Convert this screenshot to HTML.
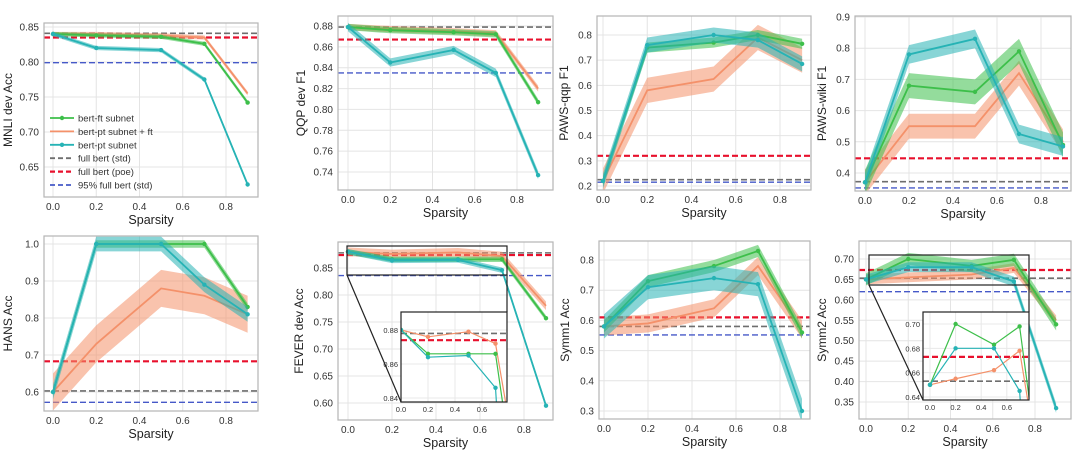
<!DOCTYPE html>
<html><head><meta charset="utf-8">
<style>
html,body{margin:0;padding:0;background:#fff;width:1080px;height:466px;overflow:hidden;}
svg{display:block;font-family:"Liberation Sans","DejaVu Sans",sans-serif;}
</style></head>
<body>
<svg id="fig" width="1080" height="466" viewBox="0 0 1080 466"></svg>
<script>
const sparsity = [0, 0.2, 0.5, 0.7, 0.9];
const seriesNames = ["bert-ft subnet","bert-pt subnet + ft","bert-pt subnet","full bert (std)","full bert (poe)","95% full bert (std)"];
// MNLI
const mnliFt = [0.840,0.838,0.836,0.826,0.742];
const mnliPtFt = [0.840,0.840,0.838,0.835,0.755];
const mnliPt = [0.840,0.820,0.817,0.775,0.625];
const mnliRefs = [0.841,0.835,0.799];
// QQP
const qqpFt = [0.879,0.876,0.874,0.872,0.807];
const qqpPtFt = [0.879,0.877,0.875,0.873,0.820];
const qqpPt = [0.879,0.845,0.857,0.835,0.737];
const qqpRefs = [0.879,0.867,0.835];
// PAWS-qqp
const pqqpFt = [0.22,0.75,0.77,0.80,0.765];
const pqqpPtFt = [0.22,0.58,0.625,0.79,0.70];
const pqqpPt = [0.22,0.76,0.80,0.78,0.685];
const pqqpRefs = [0.225,0.32,0.215];
// PAWS-wiki
const pwikiFt = [0.37,0.68,0.66,0.79,0.49];
const pwikiPtFt = [0.37,0.55,0.55,0.72,0.50];
const pwikiPt = [0.37,0.78,0.83,0.525,0.485];
const pwikiRefs = [0.372,0.447,0.352];
// HANS
const hansFt = [0.60,1.0,1.0,1.0,0.83];
const hansPtFt = [0.60,0.73,0.88,0.86,0.81];
const hansPt = [0.60,1.0,1.0,0.89,0.81];
const hansRefs = [0.603,0.683,0.572];
// FEVER
const feverFt = [0.880,0.866,0.866,0.866,0.757];
const feverPtFt = [0.880,0.876,0.879,0.872,0.780];
const feverPt = [0.880,0.864,0.865,0.846,0.595];
const feverRefs = [0.878,0.874,0.836];
// Symm1
const symm1Ft = [0.58,0.73,0.78,0.83,0.56];
const symm1PtFt = [0.58,0.59,0.64,0.78,0.57];
const symm1Pt = [0.58,0.71,0.74,0.72,0.30];
const symm1Refs = [0.58,0.61,0.552];
// Symm2
const symm2Ft = [0.65,0.70,0.683,0.698,0.54];
const symm2PtFt = [0.65,0.655,0.662,0.678,0.55];
const symm2Pt = [0.65,0.68,0.68,0.645,0.335];
const symm2Refs = [0.653,0.673,0.62];
// band half-widths (std) per panel: ft, ptft, pt
const mnliSd = [0.003,0.003,0.003];
const qqpSd = [0.003,0.003,0.004];
const pqqpSd = [0.02,0.05,0.03];
const pwikiSd = [0.04,0.04,0.03];
const hansSd = [0.01,0.05,0.02];
const feverSd = [0.005,0.008,0.005];
const symm1Sd = [0.02,0.03,0.04];
const symm2Sd = [0.015,0.012,0.012];
const xTicks = [0,0.2,0.4,0.6,0.8];

const C_FT="#3dbf4a", C_PTFT="#f4916a", C_PT="#26b3b5";
const C_STD="#6e6e6e", C_POE="#e8102d", C_95="#4659c8";
const NS="http://www.w3.org/2000/svg";
const svg=document.getElementById('fig');
function mk(tag,attrs,parent){const e=document.createElementNS(NS,tag);for(const k in attrs)e.setAttribute(k,attrs[k]);(parent||svg).appendChild(e);return e;}

const panels=[
 {key:"mnli",label:"MNLI dev Acc",ft:mnliFt,ptft:mnliPtFt,pt:mnliPt,refs:mnliRefs,sd:mnliSd,box:[44,23,258,197],x0:53,x8:226,yA:[0.85,27],yB:[0.65,167],yt:[0.65,0.70,0.75,0.80,0.85],dec:2,ylx:12},
 {key:"qqp",label:"QQP dev F1",ft:qqpFt,ptft:qqpPtFt,pt:qqpPt,refs:qqpRefs,sd:qqpSd,box:[338,16,553,190],x0:348,x8:517,yA:[0.88,26],yB:[0.74,172],yt:[0.74,0.76,0.78,0.80,0.82,0.84,0.86,0.88],dec:2,ylx:305},
 {key:"pawsqqp",label:"PAWS-qqp F1",ft:pqqpFt,ptft:pqqpPtFt,pt:pqqpPt,refs:pqqpRefs,sd:pqqpSd,box:[597,16,811,190],x0:603,x8:780,yA:[0.8,35],yB:[0.2,186],yt:[0.2,0.3,0.4,0.5,0.6,0.7,0.8],dec:1,ylx:568},
 {key:"pawswiki",label:"PAWS-wiki F1",ft:pwikiFt,ptft:pwikiPtFt,pt:pwikiPt,refs:pwikiRefs,sd:pwikiSd,box:[855,16,1071,191],x0:865,x8:1041,yA:[0.9,17],yB:[0.4,173],yt:[0.4,0.5,0.6,0.7,0.8,0.9],dec:1,ylx:826},
 {key:"hans",label:"HANS Acc",ft:hansFt,ptft:hansPtFt,pt:hansPt,refs:hansRefs,sd:hansSd,box:[44,236,258,411],x0:53,x8:226,yA:[1.0,244],yB:[0.6,392],yt:[0.6,0.7,0.8,0.9,1.0],dec:1,ylx:12},
 {key:"fever",label:"FEVER dev Acc",ft:feverFt,ptft:feverPtFt,pt:feverPt,refs:feverRefs,sd:feverSd,box:[338,242,553,420],x0:348,x8:524,yA:[0.85,268],yB:[0.60,403],yt:[0.60,0.65,0.70,0.75,0.80,0.85],dec:2,ylx:303,
   inset:{box:[401,312,507,402],x0:401,xs:135,yA:[0.88,330],yB:[0.84,398],yt:[0.84,0.86,0.88],xt:[0,0.2,0.4,0.6],rect:[347,246,507,275],conn:[[347,275,401,402],[507,275,507,312]]}},
 {key:"symm1",label:"Symm1 Acc",ft:symm1Ft,ptft:symm1PtFt,pt:symm1Pt,refs:symm1Refs,sd:symm1Sd,box:[599,241,810,419],x0:604,x8:780,yA:[0.8,260],yB:[0.3,411],yt:[0.3,0.4,0.5,0.6,0.7,0.8],dec:1,ylx:569},
 {key:"symm2",label:"Symm2 Acc",ft:symm2Ft,ptft:symm2PtFt,pt:symm2Pt,refs:symm2Refs,sd:symm2Sd,box:[859,241,1071,419],x0:866,x8:1035,yA:[0.70,259],yB:[0.35,402],yt:[0.35,0.40,0.45,0.50,0.55,0.60,0.65,0.70],dec:2,ylx:826,
   inset:{box:[923,312,1029,400],x0:930,xs:128,yA:[0.70,324],yB:[0.64,397],yt:[0.64,0.66,0.68,0.70],xt:[0,0.2,0.4,0.6],rect:[869,255,1029,285],conn:[[869,285,923,400],[1029,285,1029,312]]}}
];

function drawSeries(g,xf,yf,vals,sd,color,withBand,lw,markers){
  if(withBand){
    let up=sparsity.map((s,i)=>xf(s)+","+yf(vals[i]+sd)).join(" ");
    let dn=sparsity.map((s,i)=>xf(s)+","+yf(vals[i]-sd)).reverse().join(" ");
    const band=mk('polygon',{points:up+" "+dn,fill:color,'fill-opacity':0.55,stroke:'none'},g);
    
    
  }
  const ln=mk('polyline',{points:sparsity.map((s,i)=>xf(s)+","+yf(vals[i])).join(" "),fill:'none',stroke:color,'stroke-width':lw},g);
  
  
  if(markers){sparsity.forEach((s,i)=>{const c=mk('circle',{cx:xf(s),cy:yf(vals[i]),r:2.2,fill:color},g);
    
    });}
}
function drawRefs(g,x1,x2,yf,refs,lwScale){
  const cols=[C_STD,C_POE,C_95], w=[1.6,2.2,1.4];
  refs.forEach((v,i)=>{const l=mk('line',{x1:x1,x2:x2,y1:yf(v),y2:yf(v),stroke:cols[i],'stroke-width':w[i]*lwScale,'stroke-dasharray':'6,3'},g);
    
    });
}

panels.forEach(p=>{
  const g=mk('g',{});
  
  
  const [L,T,R,B]=p.box;
  const xs=(p.x8-p.x0)/0.8;
  const xf=s=>p.x0+s*xs;
  const yk=(p.yB[1]-p.yA[1])/(p.yB[0]-p.yA[0]);
  const yf=v=>p.yA[1]+(v-p.yA[0])*yk;
  const cid='clip-'+p.key;
  const cp=mk('clipPath',{id:cid},g); mk('rect',{x:L,y:T,width:R-L,height:B-T},cp);
  xTicks.forEach(t=>{mk('line',{x1:xf(t),x2:xf(t),y1:T,y2:B,stroke:'#e4e4e4','stroke-width':1},g);
    const tl=mk('text',{x:xf(t),y:B+13,'text-anchor':'middle','font-size':10,fill:'#333'},g);tl.textContent=t.toFixed(1);
    
    });
  p.yt.forEach(t=>{mk('line',{x1:L,x2:R,y1:yf(t),y2:yf(t),stroke:'#e4e4e4','stroke-width':1},g);
    const tl=mk('text',{x:L-5,y:yf(t)+3.5,'text-anchor':'end','font-size':10,fill:'#333'},g);tl.textContent=t.toFixed(p.dec);
    
    });
  const cg=mk('g',{'clip-path':'url(#'+cid+')'},g);
  drawRefs(cg,L,R,yf,p.refs,1);
  drawSeries(cg,xf,yf,p.ptft,p.sd[1],C_PTFT,true,1.8,false);
  drawSeries(cg,xf,yf,p.ft,p.sd[0],C_FT,true,1.8,true);
  drawSeries(cg,xf,yf,p.pt,p.sd[2],C_PT,true,1.8,true);
  const fr=mk('rect',{x:L,y:T,width:R-L,height:B-T,fill:'none',stroke:'#b5b5b5','stroke-width':1.2},g);
  
  
  const xl=mk('text',{x:(L+R)/2,y:B+27,'text-anchor':'middle','font-size':12.5,fill:'#222'},g);xl.textContent='Sparsity';
  
  
  const ym=(T+B)/2;
  const yl=mk('text',{x:p.ylx,y:ym,'text-anchor':'middle','font-size':12,fill:'#222',transform:'rotate(-90 '+p.ylx+' '+ym+')'},g);yl.textContent=p.label;
  
  
  if(p.inset){
    const q=p.inset;
    const [iL,iT,iR,iB]=q.box;
    const ixf=s=>q.x0+s*q.xs;
    const iyk=(q.yB[1]-q.yA[1])/(q.yB[0]-q.yA[0]);
    const iyf=v=>q.yA[1]+(v-q.yA[0])*iyk;
    const [rl,rt,rr,rb]=q.rect;
    mk('rect',{x:rl,y:rt,width:rr-rl,height:rb-rt,fill:'none',stroke:'#222','stroke-width':1.2},g);
    q.conn.forEach(c=>mk('line',{x1:c[0],y1:c[1],x2:c[2],y2:c[3],stroke:'#222','stroke-width':1.2},g));
    const ig=mk('g',{},g);
    
    
    mk('rect',{x:iL,y:iT,width:iR-iL,height:iB-iT,fill:'#fff'},ig);
    const icid='iclip-'+p.key;
    const icp=mk('clipPath',{id:icid},ig); mk('rect',{x:iL,y:iT,width:iR-iL,height:iB-iT},icp);
    q.xt.forEach(t=>{mk('line',{x1:ixf(t),x2:ixf(t),y1:iT,y2:iB,stroke:'#e8e8e8'},ig);
      const tl=mk('text',{x:ixf(t),y:iB+10,'text-anchor':'middle','font-size':7.5,fill:'#333'},ig);tl.textContent=t.toFixed(1);});
    q.yt.forEach(t=>{mk('line',{x1:iL,x2:iR,y1:iyf(t),y2:iyf(t),stroke:'#e8e8e8'},ig);
      const tl=mk('text',{x:iL-3,y:iyf(t)+3,'text-anchor':'end','font-size':7.5,fill:'#333'},ig);tl.textContent=t.toFixed(2);});
    const icg=mk('g',{'clip-path':'url(#'+icid+')'},ig);
    drawRefs(icg,iL,iR,iyf,p.refs,1);
    drawSeries(icg,ixf,iyf,p.ptft,0,C_PTFT,false,1.2,true);
    drawSeries(icg,ixf,iyf,p.ft,0,C_FT,false,1.2,true);
    drawSeries(icg,ixf,iyf,p.pt,0,C_PT,false,1.2,true);
    mk('rect',{x:iL,y:iT,width:iR-iL,height:iB-iT,fill:'none',stroke:'#222','stroke-width':1.2},ig);
  }
});

const lg=mk('g',{});


const legCols=[C_FT,C_PTFT,C_PT,C_STD,C_POE,C_95];
const legDash=[null,null,null,'5,3','5,3','5,3'];
const legMark=[true,false,true,false,false,false];
seriesNames.forEach((n,i)=>{
  const y=118+i*13.4;
  const e=mk('g',{},lg);
  
  
  const a={x1:50,x2:74,y1:y,y2:y,stroke:legCols[i],'stroke-width':i===4?2.2:1.8};
  if(legDash[i])a['stroke-dasharray']=legDash[i];
  mk('line',a,e);
  if(legMark[i])mk('circle',{cx:62,cy:y,r:2.2,fill:legCols[i]},e);
  const t=mk('text',{x:78,y:y+3.5,'font-size':9.5,fill:'#333'},e);t.textContent=n;
});
</script>
</body></html>
